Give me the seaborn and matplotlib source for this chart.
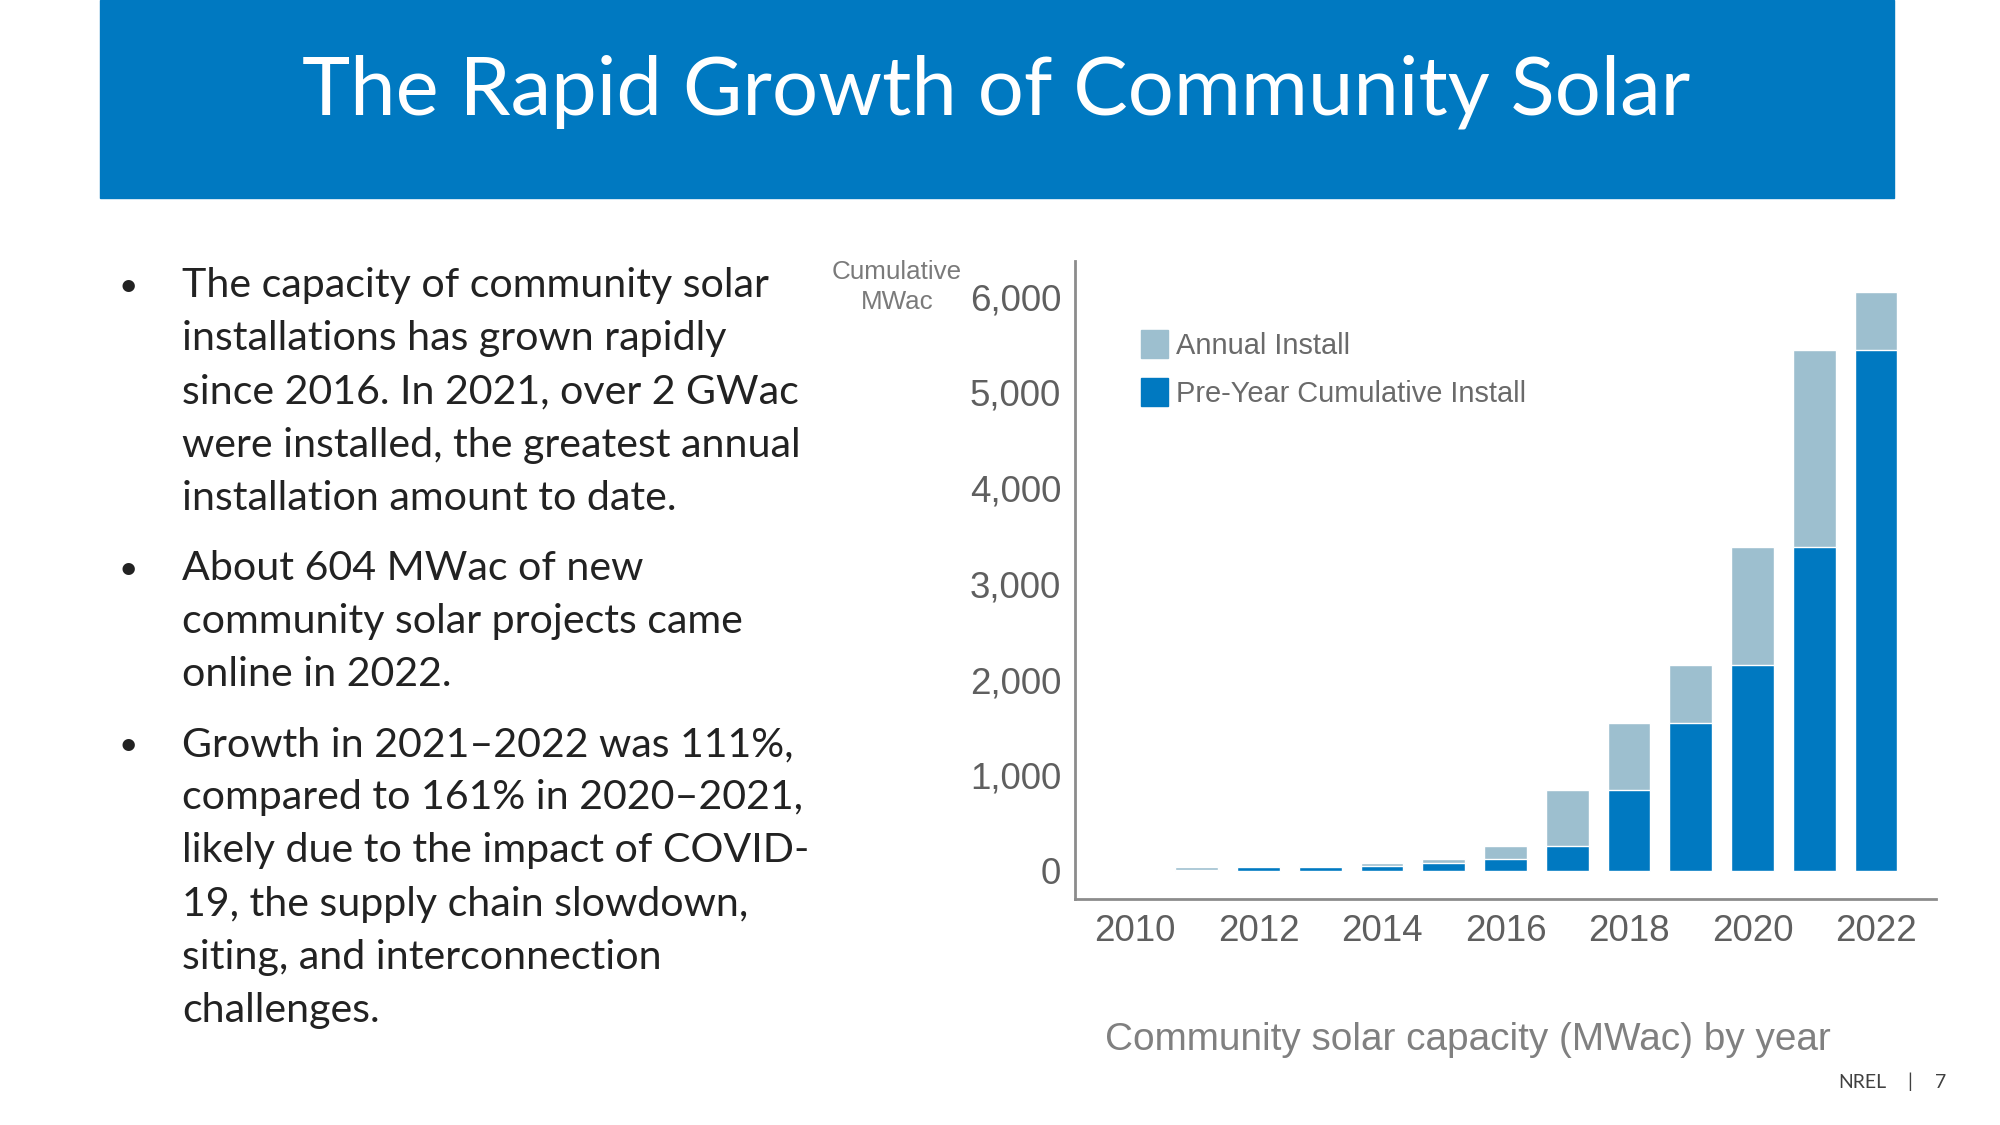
import numpy as np
import pandas as pd
import matplotlib.pyplot as plt
from matplotlib.patches import Patch, Rectangle
import seaborn as sns

# ── Style ──────────────────────────────────────────────────────────────
BLUE = "#0079C1"
LIGHT = "#9DBFCF"
AXIS_GRAY = "#8C8C8C"
TICK_GRAY = "#5F5F5F"
BODY = "#222222"

# ── Data ───────────────────────────────────────────────────────────────
years = [2010, 2011, 2012, 2013, 2014, 2015, 2016, 2017, 2018, 2019, 2020, 2021, 2022]
pre_year_cumulative = [0, 5, 40, 45, 52, 84, 122, 262, 850, 1550, 2150, 3380, 5440]
annual_install = [5, 35, 5, 7, 32, 38, 140, 588, 700, 600, 1230, 2060, 604]
ytick_values = [0, 1000, 2000, 3000, 4000, 5000, 6000]
xtick_years = [2010, 2012, 2014, 2016, 2018, 2020, 2022]

title = "The Rapid Growth of Community Solar"
bullets = [
    ["The capacity of community solar",
     "installations has grown rapidly",
     "since 2016. In 2021, over 2 GWac",
     "were installed, the greatest annual",
     "installation amount to date."],
    ["About 604 MWac of new",
     "community solar projects came",
     "online in 2022."],
    ["Growth in 2021\u20132022 was 111%,",
     "compared to 161% in 2020\u20132021,",
     "likely due to the impact of COVID-",
     "19, the supply chain slowdown,",
     "siting, and interconnection",
     "challenges."],
]
legend_labels = ["Annual Install", "Pre-Year Cumulative Install"]
axis_note = "Cumulative\nMWac"
caption = "Community solar capacity (MWac) by year"

sns.set_theme(style="white")
plt.rcParams.update({
    "font.family": ["Liberation Sans", "DejaVu Sans"],
    "axes.spines.top": False,
    "axes.spines.right": False,
})

df = pd.DataFrame({
    "year": [str(y) for y in years],
    "pre": pre_year_cumulative,
    "annual": annual_install,
})
df["total"] = df["pre"] + df["annual"]

W, H = 2000, 1125
fig = plt.figure(figsize=(20, 11.25), dpi=100)
fig.patch.set_facecolor("white")

# ── Title banner ───────────────────────────────────────────────────────
fig.patches.append(Rectangle((100 / W, 1 - 198 / H), 1794 / W, 198 / H,
                             transform=fig.transFigure, color=BLUE, zorder=0))
fig.text(996 / W, 1 - 92 / H, title, ha="center", va="center",
         color="white", fontsize=58.7, family=["Lato", "DejaVu Sans"])

# ── Bullets ────────────────────────────────────────────────────────────
para_start = [297, 580, 756]
line_gap = 53.2
for start, lines in zip(para_start, bullets):
    fig.text(119 / W, 1 - (start - 1) / H, "\u2022", ha="left", va="baseline",
             color=BODY, fontsize=24, family=["Lato", "DejaVu Sans"])
    for i, line in enumerate(lines):
        fig.text(182 / W, 1 - (start + i * line_gap) / H, line, ha="left",
                 va="baseline", color=BODY, fontsize=29.6,
                 family=["Lato", "DejaVu Sans"])

# ── Stacked bar chart ──────────────────────────────────────────────────
ax = fig.add_axes([1075 / W, 1 - 899 / H, 861 / W, 638 / H])
sns.barplot(data=df, x="year", y="total", color=LIGHT, saturation=1,
            width=0.69, errorbar=None, ax=ax)
sns.barplot(data=df, x="year", y="pre", color=BLUE, saturation=1,
            width=0.69, errorbar=None, ax=ax)

ax.set_xlim(-0.97, 12.97)
ax.set_ylim(-293, 6373)
ax.set_yticks(ytick_values)
ax.set_yticklabels([f"{v:,}" for v in ytick_values])
ax.set_xticks([years.index(y) for y in xtick_years])
ax.set_xticklabels([str(y) for y in xtick_years])
ax.tick_params(axis="both", length=0, labelsize=26.5, labelcolor=TICK_GRAY)
ax.tick_params(axis="y", pad=10)
ax.tick_params(axis="x", pad=10.5)
ax.set_xlabel("")
ax.set_ylabel("")
for side in ["left", "bottom"]:
    ax.spines[side].set_color(AXIS_GRAY)
    ax.spines[side].set_linewidth(2)

handles = [Patch(color=LIGHT, label=legend_labels[0]),
           Patch(color=BLUE, label=legend_labels[1])]
leg = ax.legend(handles=handles, loc="upper left", frameon=False,
                bbox_to_anchor=(1141 / W, 1 - 330 / H),
                bbox_transform=fig.transFigure, fontsize=20.9,
                handlelength=0.93, handleheight=1.12, handletextpad=0.28,
                labelspacing=0.62, borderpad=0, borderaxespad=0)
for t in leg.get_texts():
    t.set_color("#6A6A6A")

fig.text(897 / W, 1 - 287 / H, axis_note, ha="center", va="center",
         multialignment="center", color="#7A7A7A", fontsize=18.7,
         linespacing=1.3)
fig.text(1468 / W, 1 - 1040 / H, caption, ha="center", va="center",
         color="#808080", fontsize=27.9)

# ── Footer ─────────────────────────────────────────────────────────────
foot = dict(va="center", color="#404040", fontsize=14, family=["Lato", "DejaVu Sans"])
fig.text(1886 / W, 1 - 1082 / H, "NREL", ha="right", **foot)
fig.text(1910 / W, 1 - 1082 / H, "|", ha="center", **foot)
fig.text(1941 / W, 1 - 1082 / H, "7", ha="center", **foot)

fig.savefig("out.png", dpi=100)
